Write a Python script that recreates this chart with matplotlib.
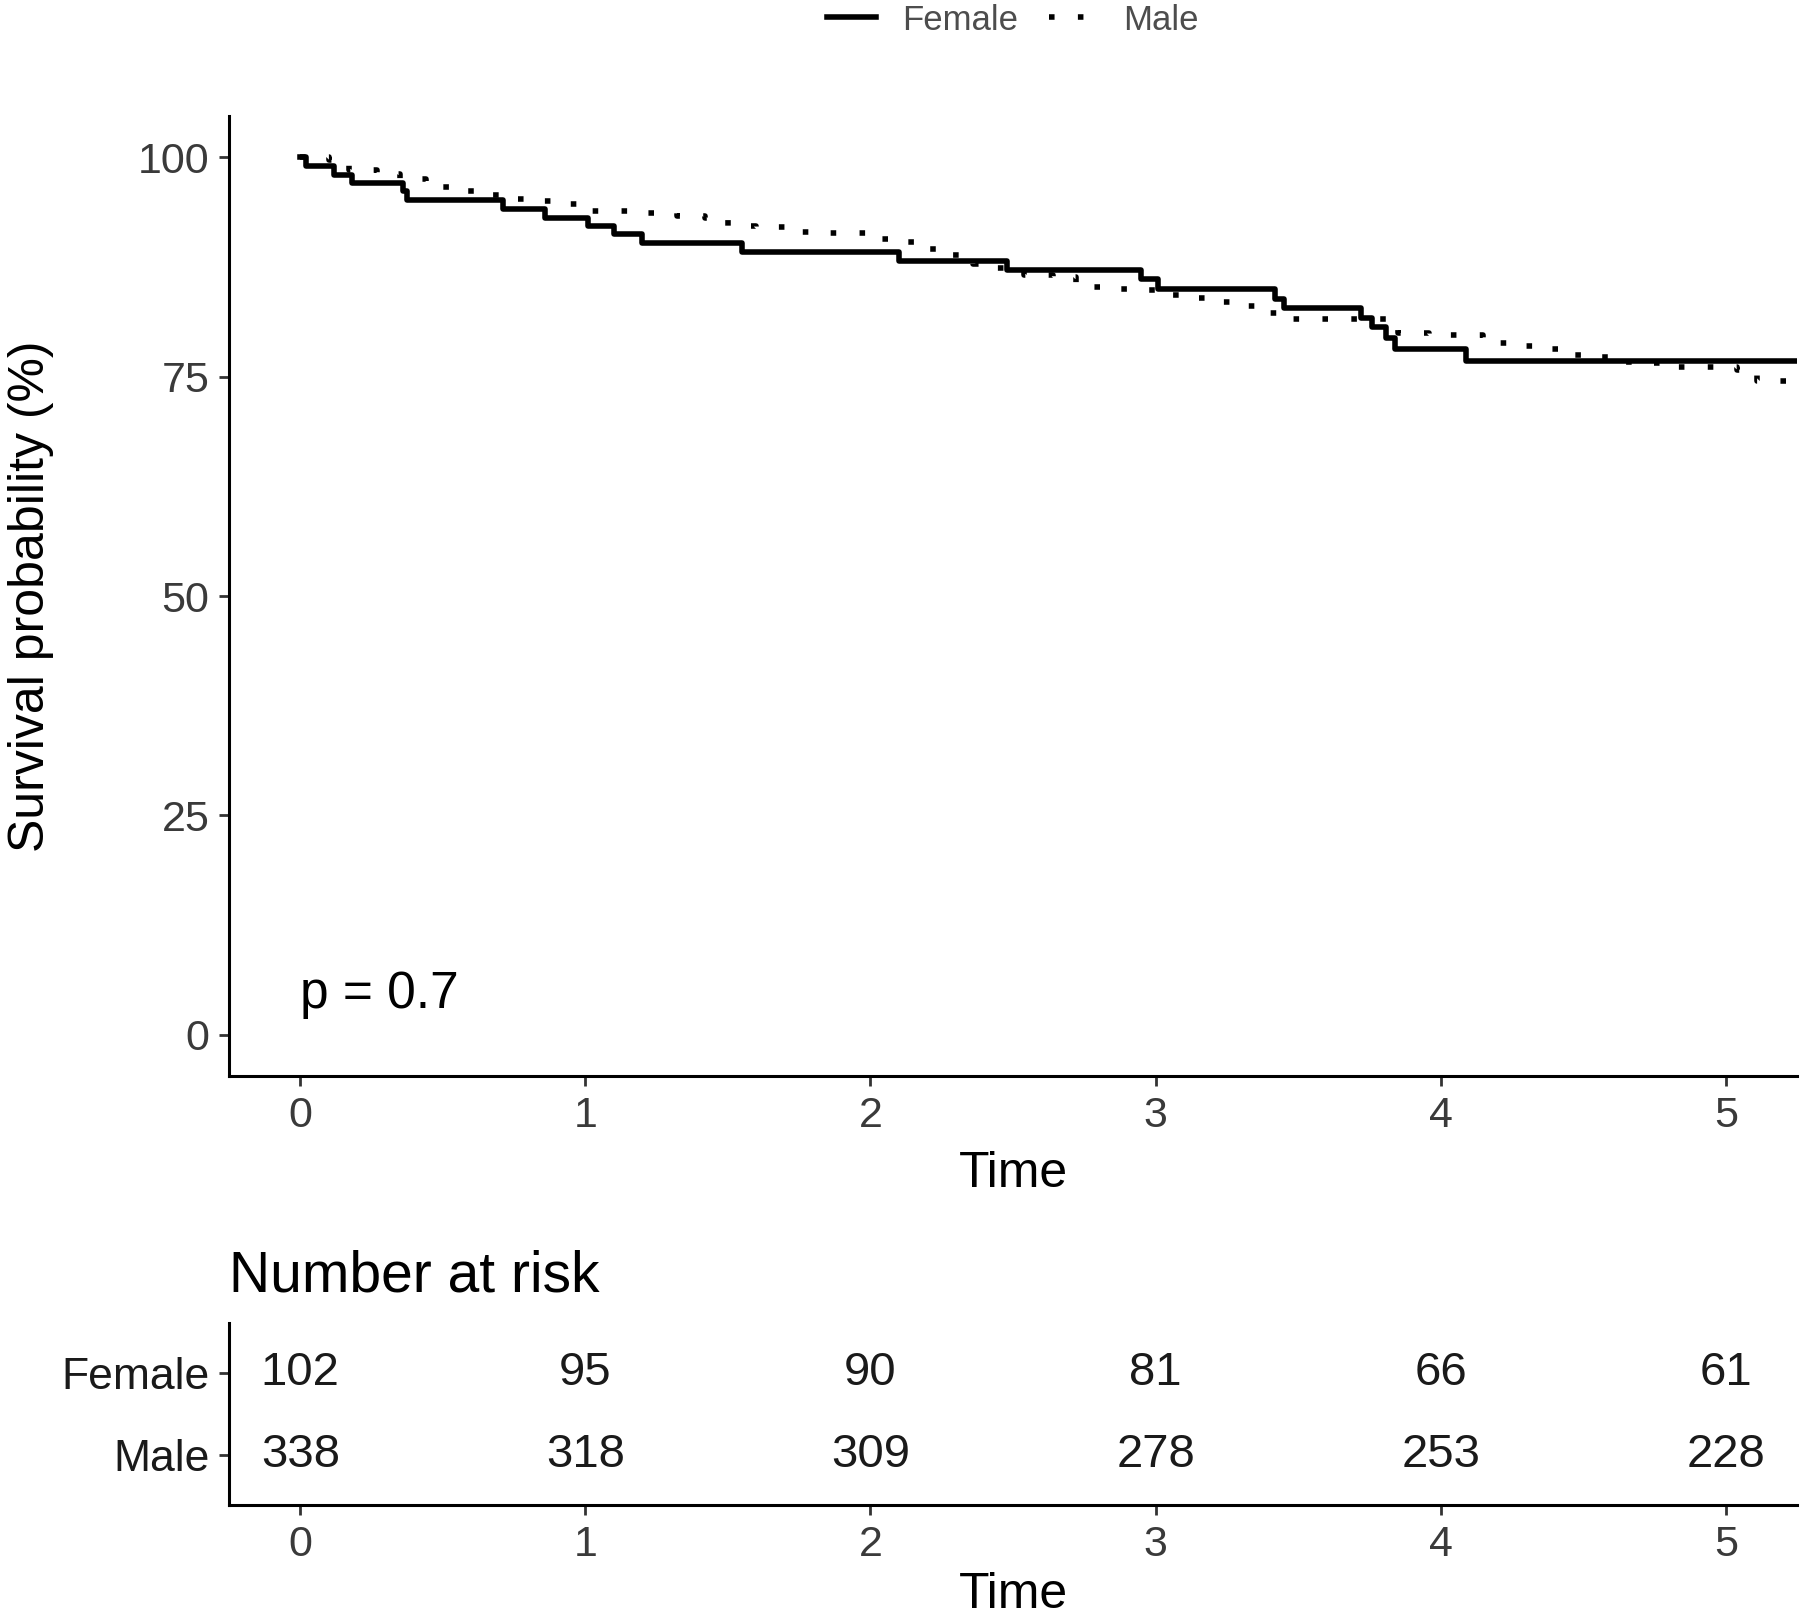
import matplotlib
matplotlib.use('Agg')
import matplotlib.pyplot as plt
import numpy as np

plt.rcParams['font.family'] = ['Liberation Sans', 'DejaVu Sans']

# Kaplan-Meier steps (time in years, survival in %)
female_time = [0, 0.02, 0.12, 0.18, 0.36, 0.375, 0.71, 0.86, 1.01, 1.10, 1.20, 1.55,
               2.10, 2.48, 2.95, 3.01, 3.42, 3.45, 3.72, 3.76, 3.81, 3.84, 4.09]
female_surv = [100, 99.0, 98.0, 97.1, 96.1, 95.1, 94.1, 93.1, 92.2, 91.2, 90.2, 89.2,
               88.2, 87.1, 86.1, 85.0, 83.9, 82.8, 81.7, 80.6, 79.4, 78.1, 76.8]

male_time = [0, 0.10, 0.17, 0.27, 0.35, 0.44, 0.53, 0.63, 0.72, 0.82, 0.92, 1.00,
             1.22, 1.32, 1.42, 1.50, 1.60, 1.70, 1.80, 2.00, 2.10, 2.19, 2.28, 2.36,
             2.44, 2.54, 2.64, 2.72, 2.81, 2.92, 3.02, 3.11, 3.21, 3.30, 3.39, 3.47,
             3.85, 3.96, 4.15, 4.25, 4.35, 4.44, 4.54, 4.64, 4.74, 4.83, 5.04, 5.11]
male_surv = [100, 99.7, 98.5, 98.1, 97.5, 96.6, 96.1, 95.7, 95.2, 95.0, 94.7, 93.9,
             93.6, 93.3, 93.1, 92.2, 92.0, 91.5, 91.4, 90.7, 90.3, 89.5, 88.9, 87.8,
             87.4, 86.6, 86.4, 85.2, 85.0, 84.9, 84.3, 84.0, 83.5, 83.1, 82.3, 81.6,
             80.0, 79.7, 78.8, 78.5, 78.2, 77.5, 77.2, 76.7, 76.5, 76.1, 75.8, 74.5]

risk_times = [0, 1, 2, 3, 4, 5]
risk_groups = ['Female', 'Male']
risk_female = [102, 95, 90, 81, 66, 61]
risk_male = [338, 318, 309, 278, 253, 228]

p_text = 'p = 0.7'

W, H = 1800, 1620
fig = plt.figure(figsize=(9, 8.1), dpi=200)

tick_col = '#3a3a3a'

def style_axes(a):
    for s in ['top', 'right']:
        a.spines[s].set_visible(False)
    for s in ['left', 'bottom']:
        a.spines[s].set_linewidth(1.1)
        a.spines[s].set_color('black')
    a.tick_params(axis='both', length=3.6, width=1.0, color='#333333',
                  labelcolor=tick_col, labelsize=15.5, pad=3.5)

# main survival panel
ax = fig.add_axes([229 / W, 1 - 1076 / H, (1797 - 229) / W, (1076 - 116) / H])
ft = list(female_time) + [5.4]
fs = list(female_surv) + [female_surv[-1]]
mt = list(male_time) + [5.4]
ms = list(male_surv) + [male_surv[-1]]
ax.step(ft, fs, where='post', color='black', lw=2.0, label='Female')
ax.step(mt, ms, where='post', color='black', lw=2.0, linestyle=(0, (1, 4.2)),
        label='Male')
ax.set_xlim(-0.25, 5.25)
ax.set_ylim(-4.7, 104.7)
ax.set_xticks([0, 1, 2, 3, 4, 5])
ax.set_yticks([0, 25, 50, 75, 100])
style_axes(ax)
ax.set_xlabel('Time', fontsize=18)
ax.set_ylabel('Survival probability (%)', fontsize=18)
ax.xaxis.set_label_coords(0.5, -0.078)
ax.xaxis.label.set_va('top')
ax.yaxis.set_label_coords((54 - 229) / 1568, 0.5)
ax.text(0, 4.6, p_text, fontsize=18.5, ha='left', va='center')

fig.legend(loc='center', bbox_to_anchor=(1013 / W, 1 - 20 / H), ncol=2,
           frameon=False, fontsize=12.5, handlelength=1.4, handletextpad=0.75,
           columnspacing=0.9, labelcolor='#4D4D4D', borderaxespad=0.0)

# number at risk table
ax2 = fig.add_axes([229 / W, 1 - 1505 / H, (1797 - 229) / W, (1505 - 1323) / H])
ax2.set_xlim(-0.25, 5.25)
ax2.set_ylim(-0.6, 1.6)
for t, nf, nm in zip(risk_times, risk_female, risk_male):
    ax2.text(t, 1, str(nf), ha='center', va='center', fontsize=17, color='#1a1a1a')
    ax2.text(t, 0, str(nm), ha='center', va='center', fontsize=17, color='#1a1a1a')
ax2.set_xticks(risk_times)
ax2.set_yticks([1, 0])
ax2.set_yticklabels(risk_groups)
style_axes(ax2)
ax2.tick_params(axis='y', labelsize=16, labelcolor='#1a1a1a')
ax2.set_xlabel('Time', fontsize=18)
ax2.xaxis.set_label_coords(0.5, -0.37)
ax2.xaxis.label.set_va('top')
ax2.set_title('Number at risk', loc='left', fontsize=20.5, pad=11.5)

plt.savefig('out.png', dpi=200)
